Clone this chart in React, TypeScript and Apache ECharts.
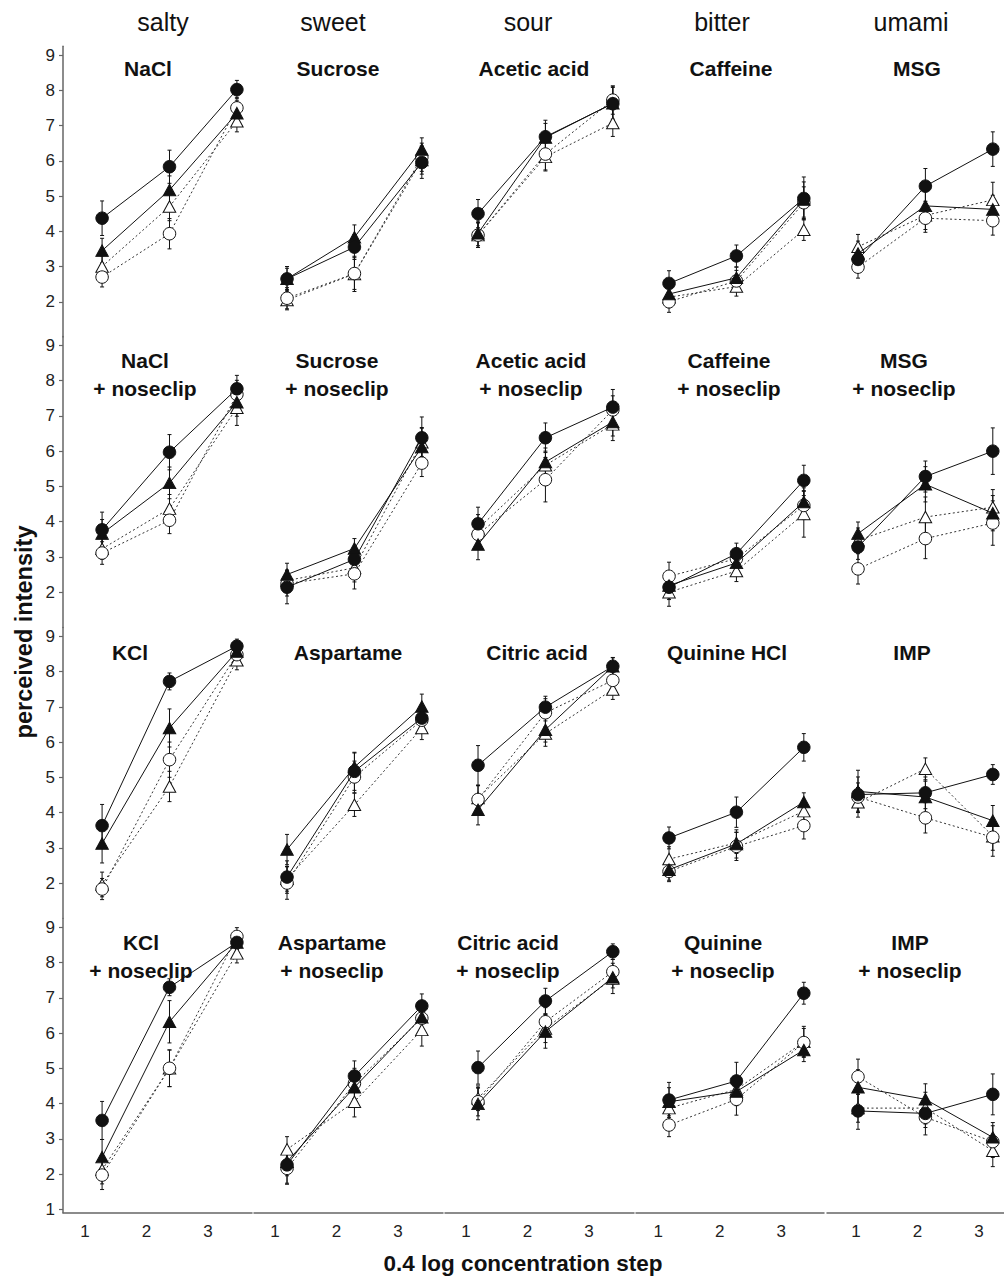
import React, { useEffect, useRef } from "react";
import * as echarts from "echarts";

// ---------------- text content ----------------
const tasteHeaders = ["salty", "sweet", "sour", "bitter", "umami"];
const panelTitles = [
  "NaCl", "Sucrose", "Acetic acid", "Caffeine", "MSG",
  "NaCl\n+ noseclip", "Sucrose\n+ noseclip", "Acetic acid\n+ noseclip", "Caffeine\n+ noseclip", "MSG\n+ noseclip",
  "KCl", "Aspartame", "Citric acid", "Quinine HCl", "IMP",
  "KCl\n+ noseclip", "Aspartame\n+ noseclip", "Citric acid\n+ noseclip", "Quinine\n+ noseclip", "IMP\n+ noseclip",
];
const steps = [1, 2, 3];
const xTickLabels = [1, 2, 3];
const yTickLabelsUpper = [2, 3, 4, 5, 6, 7, 8, 9];
const yTickLabelsLower = [1, 2, 3, 4, 5, 6, 7, 8, 9];
const yAxisTitle = "perceived intensity";
const xAxisTitle = "0.4 log concentration step";

// ---------------- data (panels row by row) ----------------
// filled circle, solid line
const filledCircle = [
  [4.37, 5.83, 8.02], [2.65, 3.55, 5.95], [4.5, 6.68, 7.62], [2.52, 3.3, 4.93], [3.2, 5.28, 6.33],
  [3.77, 5.97, 7.77], [2.14, 2.93, 6.38], [3.94, 6.38, 7.25], [2.14, 3.09, 5.17], [3.28, 5.28, 6.0],
  [3.63, 7.72, 8.72], [2.17, 5.17, 6.68], [5.34, 6.99, 8.15], [3.28, 4.01, 5.85], [4.51, 4.56, 5.08],
  [3.52, 7.3, 8.57], [2.26, 4.78, 6.77], [5.02, 6.91, 8.31], [4.1, 4.64, 7.13], [3.79, 3.72, 4.26],
];
const filledCircleErr = [
  [0.49, 0.47, 0.26], [0.35, 0.35, 0.45], [0.4, 0.47, 0.5], [0.36, 0.31, 0.61], [0.35, 0.5, 0.49],
  [0.5, 0.5, 0.38], [0.47, 0.3, 0.59], [0.47, 0.42, 0.5], [0.35, 0.3, 0.43], [0.35, 0.44, 0.66],
  [0.6, 0.24, 0.2], [0.46, 0.54, 0.35], [0.56, 0.31, 0.24], [0.31, 0.43, 0.39], [0.5, 0.45, 0.28],
  [0.54, 0.24, 0.2], [0.52, 0.43, 0.34], [0.47, 0.36, 0.22], [0.5, 0.53, 0.31], [0.52, 0.4, 0.58],
];
// filled triangle, solid line
const filledTriangle = [
  [3.45, 5.17, 7.35], [2.65, 3.83, 6.32], [3.94, 6.66, 7.63], [2.22, 2.68, 4.9], [3.37, 4.72, 4.62],
  [3.66, 5.1, 7.39], [2.5, 3.24, 6.12], [3.35, 5.69, 6.83], [2.19, 2.83, 4.56], [3.66, 5.06, 4.24],
  [3.12, 6.4, 8.57], [2.95, 5.29, 7.01], [4.08, 6.35, 8.15], [2.38, 3.11, 4.3], [4.6, 4.44, 3.77],
  [2.48, 6.32, 8.57], [2.35, 4.46, 6.45], [3.99, 6.04, 7.58], [4.05, 4.34, 5.52], [4.46, 4.12, 3.04],
];
const filledTriangleErr = [
  [0.35, 0.4, 0.35], [0.3, 0.35, 0.33], [0.35, 0.4, 0.45], [0.3, 0.3, 0.5], [0.35, 0.45, 0.4],
  [0.4, 0.45, 0.4], [0.32, 0.28, 0.55], [0.43, 0.4, 0.4], [0.35, 0.3, 0.4], [0.33, 0.5, 0.5],
  [0.55, 0.54, 0.3], [0.43, 0.4, 0.35], [0.43, 0.35, 0.25], [0.3, 0.4, 0.26], [0.6, 0.45, 0.43],
  [0.5, 0.6, 0.25], [0.4, 0.4, 0.4], [0.45, 0.47, 0.3], [0.4, 0.4, 0.33], [0.5, 0.44, 0.42],
];
// open circle, dotted line
const openCircle = [
  [2.7, 3.93, 7.5], [2.1, 2.8, 6.1], [3.89, 6.19, 7.72], [2.0, 2.59, 4.81], [2.98, 4.37, 4.3],
  [3.11, 4.04, 7.61], [2.24, 2.52, 5.66], [3.64, 5.19, 7.17], [2.45, 2.95, 4.46], [2.66, 3.52, 3.96],
  [1.83, 5.5, 8.48], [2.0, 5.01, 6.62], [4.37, 6.83, 7.75], [2.33, 3.04, 3.63], [4.44, 3.85, 3.3],
  [1.97, 5.0, 8.74], [2.16, 4.57, 6.42], [4.05, 6.32, 7.74], [3.39, 4.12, 5.73], [4.76, 3.61, 2.92],
];
const openCircleErr = [
  [0.28, 0.43, 0.3], [0.3, 0.45, 0.4], [0.35, 0.45, 0.4], [0.3, 0.3, 0.45], [0.31, 0.4, 0.41],
  [0.32, 0.38, 0.4], [0.35, 0.43, 0.38], [0.4, 0.63, 0.4], [0.4, 0.3, 0.4], [0.43, 0.57, 0.63],
  [0.3, 0.5, 0.3], [0.46, 0.45, 0.35], [0.4, 0.4, 0.3], [0.29, 0.4, 0.38], [0.4, 0.43, 0.54],
  [0.41, 0.52, 0.25], [0.45, 0.43, 0.35], [0.4, 0.4, 0.35], [0.33, 0.45, 0.4], [0.5, 0.5, 0.45],
];
// open triangle, dotted line
const openTriangle = [
  [3.0, 4.7, 7.12], [2.05, 2.79, 6.02], [3.89, 6.11, 7.07], [2.13, 2.43, 4.04], [3.56, 4.45, 4.89],
  [3.23, 4.37, 7.23], [2.33, 2.69, 6.25], [3.8, 5.6, 6.76], [2.0, 2.6, 4.22], [3.47, 4.13, 4.41],
  [1.96, 4.74, 8.32], [2.12, 4.22, 6.4], [4.41, 6.24, 7.49], [2.68, 3.14, 4.04], [4.29, 5.24, 3.33],
  [2.12, 5.0, 8.26], [2.7, 4.05, 6.09], [4.15, 6.13, 7.55], [3.87, 4.4, 5.75], [3.87, 3.87, 2.66],
];
const openTriangleErr = [
  [0.3, 0.4, 0.3], [0.28, 0.5, 0.4], [0.35, 0.4, 0.38], [0.3, 0.27, 0.3], [0.35, 0.4, 0.5],
  [0.3, 0.4, 0.5], [0.3, 0.4, 0.4], [0.4, 0.4, 0.46], [0.4, 0.3, 0.66], [0.35, 0.57, 0.5],
  [0.35, 0.43, 0.27], [0.35, 0.33, 0.33], [0.35, 0.36, 0.28], [0.35, 0.3, 0.3], [0.42, 0.31, 0.4],
  [0.4, 0.52, 0.27], [0.36, 0.43, 0.46], [0.35, 0.4, 0.43], [0.35, 0.4, 0.44], [0.4, 0.45, 0.45],
];

// ---------------- layout ----------------
const colLeft = [63, 254, 445, 636, 827];
const colWidth = [189, 189, 189, 188, 177];
const rowTop = [46.2, 336.6, 627.5, 918.5];
const rowHeight = [290.8, 290.8, 290.8, 294.3];
const rowYMin = [1, 1, 1, 0.9];
const Y_MAX = 9.25;
const dataXMin = [0.42, 0.51, 0.51, 0.51, 0.54];
const PX_PER_STEP = 67.4;
const labelXMin = [0.642, 0.66, 0.66, 0.64, 0.53];
const PX_PER_LABEL = 61.5;
const headerX = [163, 333, 528, 722, 911];
const titleX = [
  [148, 338, 534, 731, 917],
  [145, 337, 531, 729, 904],
  [130, 348, 537, 727, 912],
  [141, 332, 508, 723, 910],
];
const titleY = [68, 360, 652, 942];

const FONT = "'Liberation Sans', Arial, Helvetica, sans-serif";
const AXIS_COLOR = "#666";
const INK = "#111";

function buildOption() {
  const grid: any[] = [];
  const xAxis: any[] = [];
  const yAxis: any[] = [];
  const series: any[] = [];
  const graphic: any[] = [];

  for (let r = 0; r < 4; r++) {
    for (let c = 0; c < 5; c++) {
      const i = r * 5 + c;
      grid.push({
        left: colLeft[c],
        top: rowTop[r],
        width: colWidth[c],
        height: rowHeight[r],
        containLabel: false,
        outerBoundsMode: "none",
      });
      // data axis (hidden)
      xAxis.push({
        type: "value",
        gridIndex: i,
        min: dataXMin[c],
        max: dataXMin[c] + colWidth[c] / PX_PER_STEP,
        show: false,
        position: "bottom",
      });
      // label axis
      xAxis.push({
        type: "value",
        gridIndex: i,
        min: labelXMin[c],
        max: labelXMin[c] + colWidth[c] / PX_PER_LABEL,
        show: r === 3,
        position: "bottom",
        axisLine: { show: true, onZero: false, lineStyle: { color: AXIS_COLOR, width: 1.5 } },
        axisTick: { show: false },
        splitLine: { show: false },
        axisLabel: {
          show: true,
          customValues: xTickLabels,
          formatter: (v: number) => (Number.isInteger(v) ? String(v) : ""),
          fontSize: 17,
          fontFamily: FONT,
          color: "#222",
          margin: 10,
        },
      });
      const yTicks = r === 3 ? yTickLabelsLower : yTickLabelsUpper;
      yAxis.push({
        type: "value",
        gridIndex: i,
        min: rowYMin[r],
        max: Y_MAX,
        show: c === 0,
        axisLine: { show: true, onZero: false, lineStyle: { color: AXIS_COLOR, width: 1.5 } },
        axisTick: { show: true, inside: false, length: 4, customValues: yTicks, lineStyle: { color: AXIS_COLOR, width: 1.2 } },
        splitLine: { show: false },
        axisLabel: {
          show: true,
          customValues: yTicks,
          formatter: (v: number) => (Number.isInteger(v) ? String(v) : ""),
          fontSize: 17,
          fontFamily: FONT,
          color: "#222",
          margin: 8,
        },
      });

      const groups = [
        { vals: openTriangle[i], err: openTriangleErr[i], symbol: "triangle", filled: false },
        { vals: openCircle[i], err: openCircleErr[i], symbol: "circle", filled: false },
        { vals: filledTriangle[i], err: filledTriangleErr[i], symbol: "triangle", filled: true },
        { vals: filledCircle[i], err: filledCircleErr[i], symbol: "circle", filled: true },
      ];

      // error bars
      const errData: number[][] = [];
      groups.forEach((g) => {
        steps.forEach((s, k) => errData.push([s, g.vals[k], g.err[k]]));
      });
      series.push({
        type: "custom",
        xAxisIndex: 2 * i,
        yAxisIndex: i,
        z: 1,
        silent: true,
        data: errData,
        renderItem: (params: any, api: any) => {
          const x = api.value(0);
          const y = api.value(1);
          const e = api.value(2);
          const top = api.coord([x, y + e]);
          const bot = api.coord([x, y - e]);
          const st = { stroke: INK, lineWidth: 1 };
          return {
            type: "group",
            children: [
              { type: "line", shape: { x1: top[0], y1: top[1], x2: bot[0], y2: bot[1] }, style: st },
              { type: "line", shape: { x1: top[0] - 2, y1: top[1], x2: top[0] + 2, y2: top[1] }, style: st },
              { type: "line", shape: { x1: bot[0] - 2, y1: bot[1], x2: bot[0] + 2, y2: bot[1] }, style: st },
            ],
          };
        },
      });

      groups.forEach((g) => {
        series.push({
          type: "line",
          xAxisIndex: 2 * i,
          yAxisIndex: i,
          z: g.filled ? 4 : 3,
          silent: true,
          data: steps.map((s, k) => [s, g.vals[k]]),
          symbol: g.symbol,
          symbolSize: g.symbol === "triangle" ? [12.5, 11.5] : 12.5,
          showSymbol: true,
          emphasis: { disabled: true },
          lineStyle: g.filled
            ? { color: INK, width: 1, type: "solid" }
            : { color: "#333", width: 1, type: [2, 2.5] },
          itemStyle: g.filled
            ? { color: INK, borderColor: INK, borderWidth: 1 }
            : { color: "#fff", borderColor: INK, borderWidth: 1 },
        });
      });

      graphic.push({
        type: "text",
        x: titleX[r][c],
        y: titleY[r] - 14,
        silent: true,
        style: {
          text: panelTitles[i],
          fontSize: 21,
          fontWeight: "bold",
          fontFamily: FONT,
          fill: INK,
          align: "center",
          verticalAlign: "top",
          lineHeight: 28,
        },
      });
    }
  }

  tasteHeaders.forEach((h, c) => {
    graphic.push({
      type: "text",
      x: headerX[c],
      y: 22,
      silent: true,
      style: {
        text: h,
        fontSize: 25,
        fontFamily: FONT,
        fill: INK,
        align: "center",
        verticalAlign: "middle",
      },
    });
  });

  graphic.push({
    type: "text",
    x: 24,
    y: 632,
    rotation: Math.PI / 2,
    silent: true,
    style: {
      text: yAxisTitle,
      fontSize: 23.5,
      fontWeight: "bold",
      fontFamily: FONT,
      fill: INK,
      align: "center",
      verticalAlign: "middle",
    },
  });
  graphic.push({
    type: "text",
    x: 523,
    y: 1263,
    silent: true,
    style: {
      text: xAxisTitle,
      fontSize: 22.5,
      fontWeight: "bold",
      fontFamily: FONT,
      fill: INK,
      align: "center",
      verticalAlign: "middle",
    },
  });

  return {
    animation: false,
    backgroundColor: "#fff",
    grid,
    xAxis,
    yAxis,
    series,
    graphic,
  };
}

export default function App() {
  const ref = useRef<HTMLDivElement>(null);
  useEffect(() => {
    if (!ref.current) return;
    const chart = echarts.init(ref.current, undefined, { renderer: "svg" });
    chart.setOption(buildOption() as any);
    return () => chart.dispose();
  }, []);
  return (
    <div
      ref={ref}
      style={{ position: "absolute", left: 0, top: 0, width: 1004, height: 1277, background: "#fff" }}
    />
  );
}
